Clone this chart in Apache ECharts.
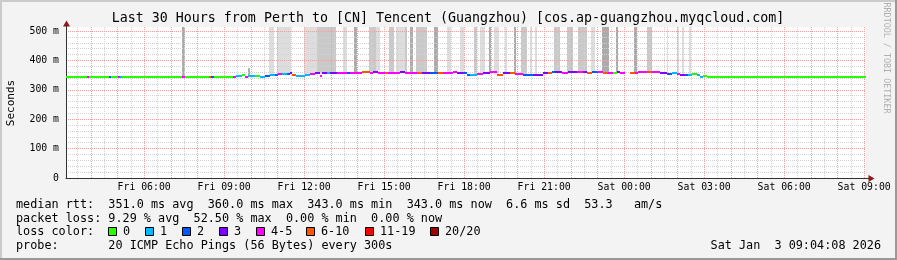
<!DOCTYPE html>
<html><head><meta charset="utf-8">
<script src="https://cdn.jsdelivr.net/npm/echarts@6/dist/echarts.min.js"></script>
<style>html,body{margin:0;padding:0;background:#f3f3f3}#c{width:897px;height:260px}</style>
</head><body><div id="c"></div>
<script>
// ---- time axis (hours since Fri 00:00) ----
const X_START = 3.0689, X_END = 33.0689;
const xLabelValues = [6, 9, 12, 15, 18, 21, 24, 27, 30, 33];
const xLabelTexts = ['Fri 06:00','Fri 09:00','Fri 12:00','Fri 15:00','Fri 18:00','Fri 21:00','Sat 00:00','Sat 03:00','Sat 06:00','Sat 09:00'];
const yLabelValues = [0, 100, 200, 300, 400, 500];
const yLabelTexts = ['0', '100 m', '200 m', '300 m', '400 m', '500 m'];
const Y_MAX = 514;

// ---- loss classes ----
const lossNames = ['0', '1', '2', '3', '4-5', '6-10', '11-19', '20/20'];
const lossColors = ['#26ff00', '#00b8ff', '#0059ff', '#7e00ff', '#ff00ff', '#ff5500', '#ff0000', '#a10000'];

// ---- median rtt (ms), step starts in hours, loss class index ----
const medTime = [3.07,3.86,3.93,4.68,4.76,5.02,5.09,5.17,7.42,7.53,8.43,8.51,8.62,9.33,9.44,9.67,9.78,9.89,10.16,10.34,10.53,10.72,10.91,11.02,11.17,11.36,11.47,11.54,11.69,12.03,12.22,12.41,12.59,12.67,12.86,12.97,13.23,13.61,13.72,14.17,14.47,14.58,14.77,15.03,15.14,15.59,15.78,16.23,16.42,16.72,17.02,17.21,17.58,17.73,17.96,18.11,18.22,18.48,18.71,18.97,19.23,19.46,19.72,19.91,20.21,20.58,20.77,20.96,21.14,21.29,21.41,21.67,21.89,22.23,22.46,22.61,22.79,22.98,23.21,23.39,23.58,23.73,23.84,24.03,24.22,24.41,24.52,24.86,25.04,25.34,25.61,25.79,25.98,26.09,26.28,26.39,26.54,26.73,26.84,26.96,27.11];
const medRtt  = [345,345,345,345,345,345,345,345,345,345,345,345,345,345,347,350,345,346,347,343,347,352,352,354,354,353,357,351,348,352,354,356,347,356,358,358,359,357,358,361,359,360,359,358,358,361,359,359,357,357,356,357,361,358,356,352,352,354,357,360,352,357,358,353,352,352,351,358,358,361,361,358,361,361,360,358,361,361,359,359,358,361,358,null,358,359,362,361,360,358,354,358,354,352,350,352,353,350,345,347,345];
const medLoss = [0,4,0,2,0,4,1,0,4,0,5,2,0,4,1,0,4,1,0,1,2,1,2,4,1,2,3,5,1,1,4,3,4,3,1,3,4,2,4,5,4,3,4,5,4,3,4,5,3,2,5,4,4,3,2,2,1,4,3,4,5,3,5,4,2,3,3,3,5,2,3,4,3,4,3,5,2,4,5,4,0,3,4,0,5,4,4,5,4,3,2,1,4,3,2,1,0,1,1,0,0];

// ---- smoke (ping spread) bands: start/end hours, low/high ms, shade ----
const smokeStart = [7.42,9.89,10.68,10.98,11.99,12.48,12.86,13.01,13.46,13.87,14.43,14.69,15.18,15.44,15.78,15.97,16.19,16.87,17.36,17.84,18.37,18.59,18.93,19.12,19.53,19.87,20.13,20.47,20.66,21.37,21.86,22.27,22.76,23.17,23.69,24.37,24.86,25.61,25.98,26.17,26.43];
const smokeEnd   = [7.53,9.97,10.87,11.51,12.48,12.86,13.01,13.19,13.61,13.98,14.69,14.84,15.37,15.78,15.86,16.08,16.61,17.02,17.51,17.99,18.48,18.78,19.01,19.31,19.61,19.94,20.36,20.54,20.73,21.59,22.08,22.61,22.91,23.43,23.77,24.48,25.04,25.64,26.06,26.24,26.51];
const smokeLow   = [345,345,350,352,352,356,357,357,358,357,358,358,358,358,358,359,358,356,357,357,354,357,360,352,357,352,352,352,352,361,361,360,361,359,361,359,360,354,354,352,352];
const smokeHigh  = [600,374,600,600,600,600,600,600,600,600,600,600,600,600,600,600,600,600,600,600,600,600,600,600,600,600,600,600,600,600,600,600,600,600,600,600,600,600,600,600,600];
const smokeShade = [2,2,0,0,0,1,1,1,0,2,1,0,1,0,1,2,1,2,0,0,1,0,2,0,0,2,1,0,0,1,1,1,0,2,2,2,1,0,0,0,0];
const shadeColors = ['#dddddd', '#c9c9c9', '#ababab'];

// ---- legend texts ----
const legendRows = [
  'median rtt:  351.0 ms avg  360.0 ms max  343.0 ms min  343.0 ms now  6.6 ms sd  53.3   am/s',
  'packet loss: 9.29 % avg  52.50 % max  0.00 % min  0.00 % now',
  'loss color:',
  'probe:       20 ICMP Echo Pings (56 Bytes) every 300s'
];

// ---- grid helper tick lists ----
const hourMajor = [], hourMinor = [], yMinor = [];
for (let h = 4; h <= 33; h++) hourMajor.push(h);
for (let h = 3.5; h <= 33; h += 1) hourMinor.push(h);
for (let v = 20; v <= 500; v += 20) if (v % 100) yMinor.push(v);

const medData = medTime.map((t, i) => [t, i + 1 < medTime.length ? medTime[i + 1] : X_END, medRtt[i], medLoss[i]]).filter(d => d[2] !== null);
const smokeData = smokeStart.map((t, i) => [t, smokeEnd[i], smokeLow[i], smokeHigh[i], smokeShade[i]]);

const MONO = '"DejaVu Sans Mono", monospace';
const GL = 66, GT = 27, GR = 866, GB = 178;
const LEG_FS = 11.8;

const chart = echarts.init(document.getElementById('c'), null, {renderer: 'canvas'});
const majorStyle = {color: '#f2a0a0', width: 1, type: [1, 1]};
const minorStyle = {color: '#d2d2d2', width: 1, type: [1, 1]};

function txt(text, x, y, size, opts) {
  opts = opts || {};
  return {type: 'text', x: x, y: y, rotation: opts.rot || 0, z: 10, silent: true,
    style: {text: text, font: size + 'px ' + MONO, fill: opts.fill || '#000',
      align: opts.align || 'left', textAlign: opts.align || 'left',
      verticalAlign: 'middle', textVerticalAlign: 'middle'}};
}

const graphics = [
  {type: 'rect', shape: {x: 0, y: 0, width: 897, height: 2}, style: {fill: '#cbcbcb'}, silent: true},
  {type: 'rect', shape: {x: 0, y: 0, width: 2, height: 260}, style: {fill: '#cbcbcb'}, silent: true},
  {type: 'rect', shape: {x: 895, y: 0, width: 2, height: 260}, style: {fill: '#999999'}, silent: true},
  {type: 'rect', shape: {x: 0, y: 258, width: 897, height: 2}, style: {fill: '#999999'}, silent: true},
  txt('Last 30 Hours from Perth to [CN] Tencent (Guangzhou) [cos.ap-guangzhou.myqcloud.com]', 448, 19, 13.3, {align: 'center'}),
  txt('Seconds', 11, 103, 11, {align: 'center', rot: Math.PI / 2}),
  txt('RRDTOOL / TOBI OETIKER', 886, 58, 8.4, {align: 'center', rot: -Math.PI / 2, fill: '#b0b0b0'}),
  txt(legendRows[0], 16, 204.5, LEG_FS),
  txt(legendRows[1], 16, 218.5, LEG_FS),
  txt(legendRows[2], 16, 232, LEG_FS),
  txt(legendRows[3], 16, 246, LEG_FS),
  txt('Sat Jan  3 09:04:08 2026', 881, 246, LEG_FS, {align: 'right'}),
  // axis arrows
  {type: 'line', shape: {x1: GL + 0.5, y1: GT, x2: GL + 0.5, y2: 22}, style: {stroke: '#333', lineWidth: 1}, silent: true},
  {type: 'polygon', shape: {points: [[63, 26.5], [70, 26.5], [66.5, 20.5]]}, style: {fill: '#8b1a1a'}, silent: true},
  {type: 'line', shape: {x1: GR, y1: GB + 0.5, x2: 869, y2: GB + 0.5}, style: {stroke: '#333', lineWidth: 1}, silent: true},
  {type: 'polygon', shape: {points: [[868.5, 175], [868.5, 182], [874.5, 178.5]]}, style: {fill: '#8b1a1a'}, silent: true}
];
const swatchX = [108.5, 145.5, 182.5, 219.5, 256.5, 306.5, 365.5, 430.5];
swatchX.forEach((sx, i) => {
  graphics.push({type: 'rect', shape: {x: sx, y: 227.5, width: 8, height: 8}, style: {fill: lossColors[i], stroke: '#000', lineWidth: 1}, silent: true});
  graphics.push(txt(lossNames[i], sx + 14.5, 232, LEG_FS));
});

chart.setOption({
  animation: false,
  backgroundColor: '#f3f3f3',
  grid: {left: GL, top: GT, width: GR - GL, height: GB - GT, show: true, backgroundColor: '#ffffff', borderWidth: 0},
  xAxis: [
    {type: 'value', min: X_START, max: X_END, z: 3,
      axisLine: {show: true, lineStyle: {color: '#333', width: 1}},
      axisTick: {show: false, customValues: hourMajor},
      axisLabel: {show: true, customValues: xLabelValues, margin: 4, color: '#000', fontFamily: MONO, fontSize: 9.8,
        formatter: v => xLabelTexts[xLabelValues.indexOf(Math.round(v))] || ''},
      splitLine: {show: true, lineStyle: majorStyle}},
    {type: 'value', min: X_START, max: X_END, z: 2, position: 'bottom',
      axisLine: {show: false}, axisTick: {show: false, customValues: hourMinor}, axisLabel: {show: false},
      splitLine: {show: true, lineStyle: minorStyle}}
  ],
  yAxis: [
    {type: 'value', min: 0, max: Y_MAX, z: 3,
      axisLine: {show: true, lineStyle: {color: '#333', width: 1}},
      axisTick: {show: false, customValues: yLabelValues},
      axisLabel: {show: true, customValues: yLabelValues, margin: 7, color: '#000', fontFamily: MONO, fontSize: 9.8,
        formatter: v => yLabelTexts[yLabelValues.indexOf(Math.round(v))] || ''},
      splitLine: {show: true, lineStyle: majorStyle}},
    {type: 'value', min: 0, max: Y_MAX, z: 2, position: 'left',
      axisLine: {show: false}, axisTick: {show: false, customValues: yMinor}, axisLabel: {show: false},
      splitLine: {show: true, lineStyle: minorStyle}}
  ],
  series: [
    {type: 'custom', name: 'smoke', xAxisIndex: 0, yAxisIndex: 0, z: 1, clip: true,
      encode: {x: [0, 1], y: [2, 3]}, data: smokeData,
      renderItem: (params, api) => {
        const a = api.coord([api.value(0), api.value(3)]);
        const b = api.coord([api.value(1), api.value(2)]);
        const x0 = Math.round(a[0]), x1 = Math.max(Math.round(b[0]), x0 + 1);
        return {type: 'rect', shape: {x: x0, y: a[1], width: x1 - x0, height: b[1] - a[1]},
          style: {fill: shadeColors[api.value(4)]}};
      }},
    {type: 'custom', name: 'median', xAxisIndex: 0, yAxisIndex: 0, z: 5, clip: true,
      encode: {x: [0, 1], y: 2}, data: medData,
      renderItem: (params, api) => {
        const a = api.coord([api.value(0), api.value(2)]);
        const b = api.coord([api.value(1), api.value(2)]);
        const x0 = Math.round(a[0]), x1 = Math.round(b[0]);
        return {type: 'rect', shape: {x: x0, y: Math.round(a[1]) - 1, width: Math.max(x1 - x0, 1), height: 2},
          style: {fill: lossColors[api.value(3)]}};
      }}
  ],
  graphic: graphics
});
</script></body></html>
